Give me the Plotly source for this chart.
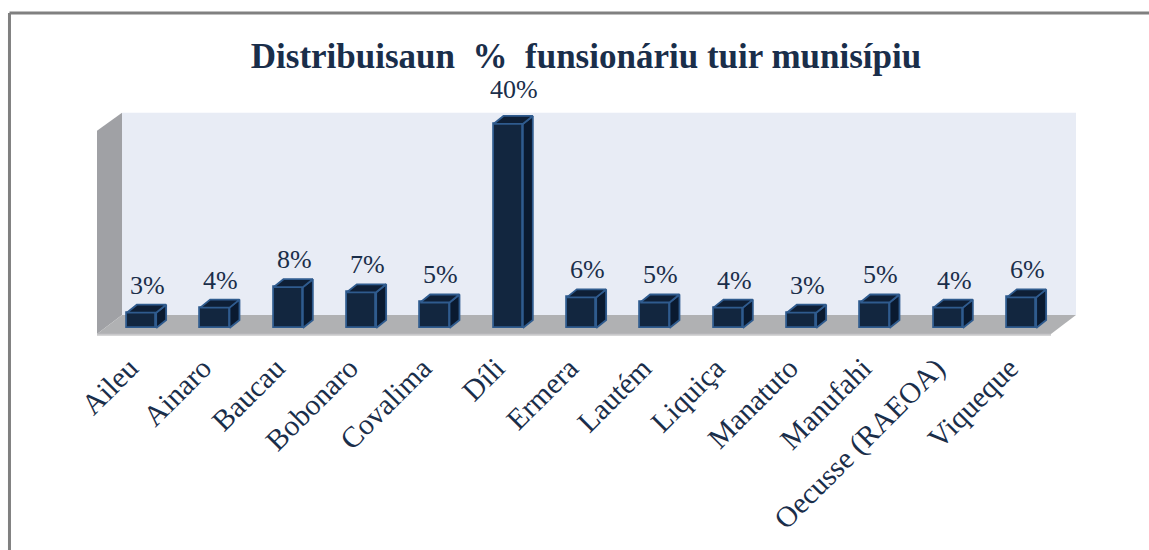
import plotly.graph_objects as go

categories = ["Aileu", "Ainaro", "Baucau", "Bobonaro", "Covalima", "Díli", "Ermera",
              "Lautém", "Liquiça", "Manatuto", "Manufahi", "Oecusse (RAEOA)", "Viqueque"]
values = [3, 4, 8, 7, 5, 40, 6, 5, 4, 3, 5, 4, 6]
title_text = "Distribuisaun\u00a0\u00a0%\u00a0\u00a0funsionáriu tuir munisípiu"

INK = "#1a2e4a"
FRONT = "#12263f"
TOP = "#0e1f36"
SIDE = "#0a1a30"
EDGE = "#2f5b8e"
SERIF = "Liberation Serif"

BAR_W = 0.40    # category units
DX = 0.136      # depth in category units
DY = 1.57       # depth in value units
XR = [-0.607, 12.743]
YR = [-1.57, 44.7]
WALL_TOP = 42.2
FLOOR_Y = -1.18
BACK_X = XR[0] + 0.341
xs = list(range(len(categories)))

fig = go.Figure()

# front faces
fig.add_bar(x=xs, y=values, width=BAR_W, marker=dict(color=FRONT, line=dict(color=EDGE, width=1.8)),
            hoverinfo="skip", showlegend=False)

# side and top faces derived from the values
sx, sy, tx, ty = [], [], [], []
for x, v in zip(xs, values):
    r = x + BAR_W / 2
    l = x - BAR_W / 2
    sx += [r, r + DX, r + DX, r, r, None]
    sy += [0, DY, v + DY, v, 0, None]
    tx += [l, l + DX, r + DX, r, l, None]
    ty += [v, v + DY, v + DY, v, v, None]
for px_, py_, col in ((sx, sy, SIDE), (tx, ty, TOP)):
    fig.add_scatter(x=px_, y=py_, mode="lines", fill="toself", fillcolor=col,
                    line=dict(color=EDGE, width=1.8), hoverinfo="skip", showlegend=False)

shapes = [
    # back wall
    dict(type="rect", xref="x", yref="y", x0=BACK_X, x1=XR[1], y0=DY + 1.0, y1=WALL_TOP,
         fillcolor="#e8ecf5", line_width=0, layer="below"),
    # left wall
    dict(type="path", xref="x", yref="y",
         path=f"M {XR[0]} {FLOOR_Y} L {BACK_X} {DY + 1.0} L {BACK_X} {WALL_TOP} L {XR[0]} {WALL_TOP - 3.53} Z",
         fillcolor="#a0a1a5", line_width=0, layer="below"),
    # floor
    dict(type="path", xref="x", yref="y",
         path=f"M {XR[0]} {FLOOR_Y} L {BACK_X} {DY + 1.0} L {XR[1]} {DY + 1.0} L {XR[1] - 0.341} {FLOOR_Y} Z",
         fillcolor="#b0b1b3", line_width=0, layer="below"),
    dict(type="line", xref="x", yref="y", x0=XR[0], x1=XR[1] - 0.341, y0=FLOOR_Y - 0.15, y1=FLOOR_Y - 0.15,
         line=dict(color="#c8c8ca", width=2), layer="below"),
    # chart frame: top and left edges
    dict(type="line", xref="paper", yref="paper", x0=-0.0894, x1=1.0746, y0=1.3686, y1=1.3686,
         line=dict(color="#808080", width=3)),
    dict(type="line", xref="paper", yref="paper", x0=-0.0894, x1=-0.0894, y0=-0.907, y1=1.3686,
         line=dict(color="#808080", width=3)),
]

annotations = [
    dict(x=x + DX / 2, y=v + DY, text=f"{v}%", showarrow=False, xref="x", yref="y",
         yanchor="bottom", yshift=(10 if v == max(values) else 3), xshift=1,
         font=dict(family=SERIF, size=26, color=INK))
    for x, v in zip(xs, values)
]

fig.update_layout(
    width=1149, height=550,
    margin=dict(l=97, r=73, t=100, b=214, autoexpand=False),
    paper_bgcolor="white", plot_bgcolor="rgba(0,0,0,0)",
    title=dict(text=title_text, x=586 / 1149, xanchor="center", y=1 - 56 / 550, yanchor="middle",
               font=dict(family=SERIF, size=35, color=INK, weight="bold")),
    xaxis=dict(range=XR, tickmode="array", tickvals=xs, ticktext=categories, tickangle=-45,
               showgrid=False, zeroline=False, showline=False, ticks="",
               ticklabelshift=-12, ticklabelstandoff=8,
               tickfont=dict(family=SERIF, size=29.5, color=INK)),
    yaxis=dict(range=YR, visible=False),
    shapes=shapes, annotations=annotations,
    bargap=0,
)
fig.write_html("out.html", config=dict(displayModeBar=False),
               post_script="document.body.style.margin='0';document.documentElement.style.overflow='hidden';window.dispatchEvent(new Event('resize'));")
